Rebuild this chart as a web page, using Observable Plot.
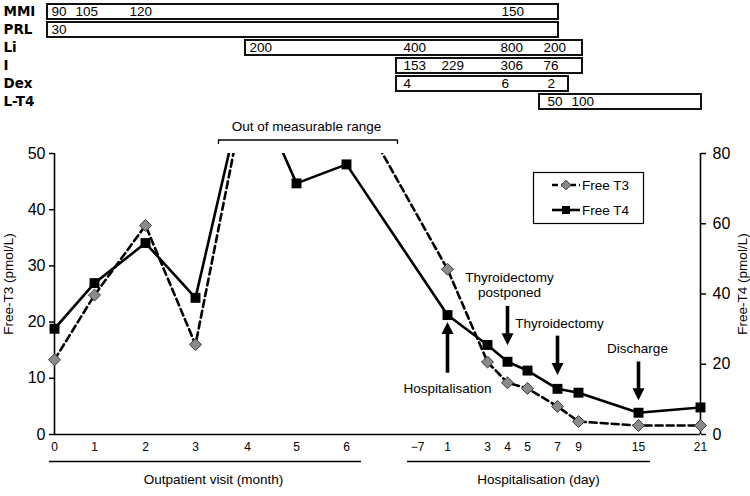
<!DOCTYPE html>
<html><head><meta charset="utf-8">
<script src="https://cdn.jsdelivr.net/npm/d3@7"></script>
<script src="https://cdn.jsdelivr.net/npm/@observablehq/plot@0.6"></script>
<style>
body{margin:0;background:#fff;}
#wrap{width:750px;height:496px;position:relative;overflow:hidden;background:#fff}
#wrap svg{display:block;overflow:visible}
</style></head><body><div id="wrap"></div>
<script>
// ---- x axis: tick labels and their position on the (uneven) timeline ----
const tickLabels = ["0","1","2","3","4","5","6","\u22127","1","3","4","5","7","9","15","21"];
const timeline   = [0, 4.0, 9.1, 14.1, 19.3, 24.2, 29.2, 36.3, 39.3, 43.3, 45.3, 47.3, 50.3, 52.4, 58.4, 64.6];
// ---- series (null = not measured; >50 / >80 = out of measurable range, estimated from where line leaves the plot) ----
const freeT3 = [13.3, 24.8, 37.2, 16.0, 62.6, null, 61.4, null, 29.4, 12.9, 9.2, 8.2, 5.0, 2.3, 1.6, 1.6];
const freeT4 = [30.1, 43.1, 54.5, 38.9, 103, 71.5, 76.9, null, 34.0, 25.5, 20.7, 18.2, 13.0, 11.9, 6.2, 7.7];
// ---- drug panel ----
const drugs     = ["MMI","PRL","Li","I","Dex","L-T4"];
const drugStart = [-0.7, -0.7, 19.1, 34.2, 34.2, 48.5];
const drugEnd   = [50.4, 50.4, 52.8, 52.8, 51.4, 64.7];
const doseDrug  = ["MMI","MMI","MMI","MMI","PRL","Li","Li","Li","Li","I","I","I","I","Dex","Dex","Dex","L-T4","L-T4"];
const doseText  = ["90","105","120","150","30","200","400","800","200","153","229","306","76","4","6","2","50","100"];
const doseAt    = [-0.4, 2.0, 7.4, 44.6, -0.4, 19.4, 34.8, 44.5, 48.8, 34.8, 38.6, 44.5, 48.8, 34.8, 44.6, 49.2, 49.2, 51.6];
// ---- annotations ----
const events = [
  {text:"Thyroidectomy\npostponed", t:45.5, y:26.7, at:45.3, from:22.8, to:15.9},
  {text:"Thyroidectomy", t:50.5, y:19.8, at:50.3, from:17.5, to:10.6},
  {text:"Discharge", t:58.3, y:15.4, at:58.4, from:12.9, to:6.1},
  {text:"Hospitalisation", t:39.3, y:8.3, at:39.3, from:10.9, to:20.0}
];
const periods = [
  {text:"Outpatient visit (month)", x1:-0.5, x2:30.7, tc:15.9},
  {text:"Hospitalisation (day)", x1:35.3, x2:59.6, tc:48.4}
];
const seriesNames = ["Free T3","Free T4"];

const FONT = "Liberation Sans, Arial, sans-serif";
const k = 50/80; // right axis (Free T4, 0-80) onto left axis (Free T3, 0-50)
const X = {domain:[0,64.6]};
const wrap = document.getElementById("wrap");

// ---------- top drug panel ----------
const drugRows = drugs.map((d,i)=>({drug:d, start:drugStart[i], end:drugEnd[i]}));
const doses = doseText.map((t,i)=>({drug:doseDrug[i], text:t, at:doseAt[i]}));
const topPlot = Plot.plot({
  width:750, height:115, marginLeft:54, marginRight:50, marginTop:0.5, marginBottom:3,
  x:{...X, axis:null},
  y:{domain:drugs, type:"band", paddingInner:0.15, paddingOuter:0.05, axis:null},
  style:{fontFamily:FONT, fontSize:"13.5px", color:"#000", background:"#fff"},
  marks:[
    Plot.barX(drugRows, {x1:"start", x2:"end", y:"drug", fill:"white", stroke:"#111", strokeWidth:2}),
    Plot.text(doses, {x:"at", y:"drug", text:"text", textAnchor:"start", fill:"#000", dx:1}),
    Plot.text(drugs, {y:d=>d, text:d=>d, frameAnchor:"left", dx:-51, textAnchor:"start", fontWeight:"bold", fontFamily:"DejaVu Sans", fontSize:13.5, fill:"#000"})
  ]
});
wrap.appendChild(topPlot);

// ---------- main chart ----------
const rows = tickLabels.map((label,i)=>({label, t:timeline[i], t3:freeT3[i], t4:freeT4[i]}));
const meas = rows.filter(d=>d.t3!=null || d.t4!=null);
const upHead = {draw(ctx,size){const r=Math.sqrt(size/Math.PI); ctx.moveTo(0,0); ctx.lineTo(-r,2*r); ctx.lineTo(r,2*r); ctx.closePath();}};
const downHead = {draw(ctx,size){const r=Math.sqrt(size/Math.PI); ctx.moveTo(0,0); ctx.lineTo(-r,-2*r); ctx.lineTo(r,-2*r); ctx.closePath();}};
const shaftEnd = d => d.to + (d.to < d.from ? 1 : -1);

const main = Plot.plot({
  width:750, height:381, marginLeft:54, marginRight:50, marginTop:38, marginBottom:62,
  x:{...X, axis:null},
  y:{domain:[0,50]},
  style:{fontFamily:FONT, fontSize:"13.5px", color:"#000", background:"transparent", overflow:"visible"},
  marks:[
    Plot.axisY({ticks:[0,10,20,30,40,50], tickSize:5, tickPadding:4, fontSize:16, label:null, strokeWidth:1.5, fill:"#000"}),
    Plot.axisY({anchor:"right", ticks:[0,20,40,60,80].map(v=>v*k), tickFormat:v=>Math.round(v/k), tickSize:5, tickPadding:7, fontSize:16, label:null, strokeWidth:1.5, fill:"#000"}),
    Plot.ruleX([0, 64.6], {y1:0, y2:50, strokeWidth:1.6}),
    Plot.ruleY([0], {strokeWidth:1.6}),
    // x tick labels
    Plot.text(rows, {x:"t", text:"label", frameAnchor:"bottom", lineAnchor:"middle", dy:12.5, fontSize:12, fill:"#000"}),
    // axis titles
    Plot.text(["Free-T3 (pmol/L)"], {text:d=>d, frameAnchor:"left", textAnchor:"middle", lineAnchor:"middle", dx:-46, dy:-10, rotate:-90, fontSize:13.5, fill:"#000"}),
    Plot.text(["Free-T4 (pmol/L)"], {text:d=>d, frameAnchor:"right", textAnchor:"middle", lineAnchor:"middle", dx:42, dy:-10, rotate:-90, fontSize:13.5, fill:"#000"}),
    // series
    Plot.line(meas, {x:"t", y:"t3", stroke:"#000", strokeWidth:2.6, strokeDasharray:"7,4", clip:true}),
    Plot.line(meas, {x:"t", y:d=>d.t4==null?null:d.t4*k, stroke:"#000", strokeWidth:2.6, clip:true}),
    Plot.dot(meas.filter(d=>d.t3!=null && d.t3<=50), {x:"t", y:"t3", symbol:"diamond2", r:5.4, fill:"#8a8a8a", stroke:"#3a3a3a", strokeWidth:1}),
    Plot.dot(meas.filter(d=>d.t4!=null && d.t4<=80), {x:"t", y:d=>d.t4*k, symbol:"square", r:5.6, fill:"#000"}),
    // out of measurable range bracket
    Plot.ruleY([{y:52.4, x1:16.4, x2:34.3}], {y:"y", x1:"x1", x2:"x2", strokeWidth:1.3}),
    Plot.ruleX([16.4, 34.3], {y1:52.4, y2:51.6, strokeWidth:1.3}),
    Plot.text([{t:25.2, y:54.7, text:"Out of measurable range"}], {x:"t", y:"y", text:"text", fontSize:13.5, fill:"#000"}),
    // event arrows
    Plot.ruleX(events, {x:"at", y1:"from", y2:shaftEnd, strokeWidth:3.6, stroke:"#000"}),
    Plot.dot(events.filter(d=>d.to<d.from), {x:"at", y:"to", symbol:downHead, r:6, fill:"#000", stroke:"none"}),
    Plot.dot(events.filter(d=>d.to>d.from), {x:"at", y:"to", symbol:upHead, r:6, fill:"#000", stroke:"none"}),
    Plot.text(events, {x:"t", y:"y", text:"text", fontSize:13.5, lineHeight:1.12, fill:"#000"}),
    // period bars under axis
    Plot.ruleY(periods, {y:()=>-4.8, x1:"x1", x2:"x2", strokeWidth:1.6}),
    Plot.text(periods, {x:"tc", y:()=>-8.1, text:"text", fontSize:13.5, fill:"#000"})
  ]
});
wrap.appendChild(main);

// ---------- legend ----------
const lg = d3.select(main).append("g").attr("font-family", FONT).attr("font-size", 13.5).attr("text-anchor","start");
lg.append("rect").attr("x",533.5).attr("y",57.5).attr("width",110).attr("height",51)
  .attr("fill","white").attr("stroke","#000").attr("stroke-width",1.2);
seriesNames.forEach((name,i)=>{
  const y = 70 + i*25;
  lg.append("line").attr("x1",552).attr("x2",580).attr("y1",y).attr("y2",y)
    .attr("stroke","#000").attr("stroke-width",2.6).attr("stroke-dasharray", i===0 ? "6,3" : null);
  lg.append("path").attr("transform",`translate(566,${y})`)
    .attr("d", d3.symbol(i===0 ? d3.symbolDiamond2 : d3.symbolSquare, i===0 ? 60 : 64)())
    .attr("fill", i===0 ? "#8a8a8a" : "#000").attr("stroke", i===0 ? "#3a3a3a" : "none");
  lg.append("text").attr("x",582).attr("y",y).attr("dy","0.35em").attr("fill","#000").attr("text-anchor","start").text(name);
});
</script></body></html>
